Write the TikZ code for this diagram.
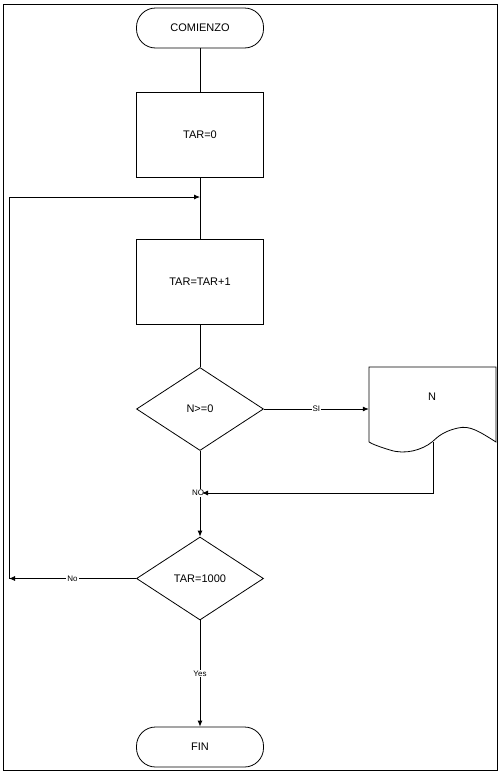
\documentclass[tikz,border=0pt]{standalone}
\usepackage{fontspec}
\setmainfont{Liberation Sans}
\usetikzlibrary{shapes.geometric,arrows.meta}
\begin{document}
\begin{tikzpicture}[x=1pt,y=-1pt,
  every node/.style={font=\fontsize{11}{12}\selectfont},
  base/.style={draw,line width=0.8pt,inner sep=0pt},
  term/.style={base,minimum width=127pt,minimum height=40pt,rounded corners=19pt},
  procbox/.style={base,minimum width=127pt,minimum height=85pt},
  decide/.style={base,diamond,minimum width=127pt,minimum height=83pt},
  lbl/.style={fill=white,inner sep=1pt,font=\fontsize{8}{9}\selectfont},
  line/.style={line width=0.8pt},
  arr/.style={line,-{Latex[length=6pt,width=5pt]}}]
\useasboundingbox (0,0) rectangle (502,774);
\draw[line] (3.5,4) rectangle (497.5,770);
\node[term] (start) at (200,28) {COMIENZO};
\node[procbox] (t0) at (200,134.5) {TAR=0};
\node[procbox] (t1) at (200,282) {TAR=TAR+1};
\node[decide] (d1) at (200,409) {N>=0};
\node[decide] (d2) at (200,578.5) {TAR=1000};
\node[term] (fin) at (200,747) {FIN};
% document shape
\node[minimum width=127pt,minimum height=85pt,inner sep=0pt] (doc) at (432.5,409) {};
\node (doctext) at (432,397) {N};
\draw[line] (369,442) -- (369,367) -- (496,367) -- (496,442)
  .. controls (480,432) and (470,425) .. (458,428)
  .. controls (440,432) and (435,440) .. (432,442)
  .. controls (422,450) and (405,455) .. (390,450)
  .. controls (380,447) and (372,444) .. (369,442);
\coordinate (docout) at (433,442);
\coordinate (join) at (200,197);
\coordinate (loopc) at (9,578.5);
\coordinate (noin) at (202,493);
\draw[line] (start) -- (t0);
\draw[line] (t0) -- (t1);
\draw[line] (t1) -- (d1);
\draw[arr] (d1.east) -- node[lbl]{SI} (doc.west);
\draw[arr] (d1.south) -- (d2.north);
\node[lbl] (nolbl) at (198,493) {NO};
\draw[arr] (docout) |- (noin);
\draw[arr] (d2.west) -- node[lbl]{No} (loopc);
\draw[arr] (loopc) |- (join);
\draw[arr] (d2.south) -- node[lbl]{Yes} (fin.north);
\end{tikzpicture}
\end{document}
